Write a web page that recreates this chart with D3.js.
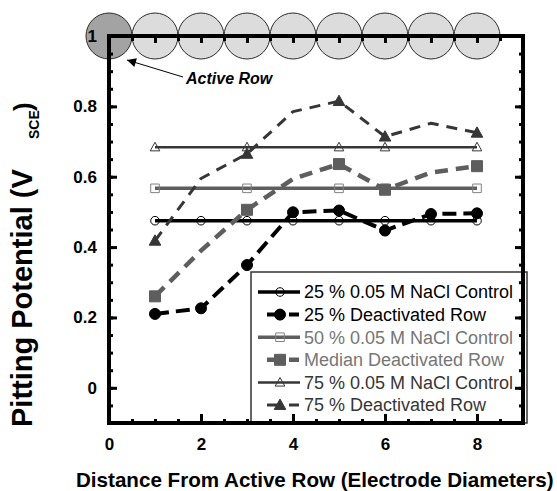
<!DOCTYPE html>
<html>
<head>
<meta charset="utf-8">
<script src="https://cdn.jsdelivr.net/npm/d3@7"></script>
<style>
  html, body { margin: 0; padding: 0; background: #fff; }
  svg { display: block; font-family: "Liberation Sans", Arial, sans-serif; }
</style>
</head>
<body>
<svg id="chart" width="557" height="491"></svg>
<script>
// Distances from the active row (electrode diameters)
const distances = [1, 2, 3, 4, 5, 6, 7, 8];

// Pitting potentials (V vs SCE)
const control25 = [0.475, 0.475, 0.475, 0.475, 0.475, 0.475, 0.475, 0.475];
const deactivated25 = [0.21, 0.226, 0.349, 0.499, 0.504, 0.447, 0.494, 0.496];
const control50 = [0.567, 0.567, 0.567, 0.567, 0.567, 0.567, 0.567, 0.567];
const medianDeactivated = [0.26, 0.39, 0.506, 0.594, 0.636, 0.563, 0.612, 0.63];
const control75 = [0.684, 0.684, 0.684, 0.684, 0.684, 0.684, 0.684, 0.684];
const deactivated75 = [0.418, 0.595, 0.665, 0.785, 0.815, 0.714, 0.752, 0.725];

// Distances at which symbols are plotted
const markersAll = [1, 2, 3, 4, 5, 6, 7, 8];
const markersSparse = [1, 3, 5, 6, 8];

// Electrode row drawn along the top edge (0 = active electrode)
const electrodes = [0, 1, 2, 3, 4, 5, 6, 7, 8];

// Axis ticks
const xMajor = [0, 2, 4, 6, 8];
const yMajor = [0, 0.2, 0.4, 0.6, 0.8, 1];

const legendLabels = [
  "25 % 0.05 M NaCl Control",
  "25 % Deactivated Row",
  "50 % 0.05 M NaCl Control",
  "Median Deactivated Row",
  "75 % 0.05 M NaCl Control",
  "75 % Deactivated Row"
];

const BLACK = "#000", GRAY = "#5e5e5e", DARK = "#363636";

const series = [
  { values: control25, markers: markersAll, color: BLACK, width: 3.5, dash: null, symbol: "circle", filled: false, size: 4.3, text: BLACK },
  { values: deactivated25, markers: markersAll, color: BLACK, width: 4, dash: "14,7", symbol: "circle", filled: true, size: 5.5, text: BLACK },
  { values: control50, markers: markersSparse, color: GRAY, width: 3.5, dash: null, symbol: "square", filled: false, size: 4.3, text: "#767676" },
  { values: medianDeactivated, markers: markersSparse, color: GRAY, width: 4.5, dash: "13,8", symbol: "square", filled: true, size: 5.5, text: "#767676" },
  { values: control75, markers: markersSparse, color: DARK, width: 2.5, dash: null, symbol: "triangle", filled: false, size: 4.8, text: DARK },
  { values: deactivated75, markers: markersSparse, color: DARK, width: 3, dash: "11,8", symbol: "triangle", filled: true, size: 5.8, text: DARK }
];

const svg = d3.select("#chart");
const x = d3.scaleLinear().domain([0, 9]).range([109, 523]);
const y = d3.scaleLinear().domain([-0.1, 1.0]).range([423, 36]);

// Electrode circles along the top
const r = (x(1) - x(0)) / 2;
svg.append("g").selectAll("circle").data(electrodes).join("circle")
  .attr("cx", d => x(d)).attr("cy", y(1))
  .attr("r", r)
  .attr("fill", d => d === 0 ? "#a3a3a3" : "#dcdcdc")
  .attr("stroke", "#2a2a2a").attr("stroke-width", 1);

// Symbol path generator
function symbolPath(type, s) {
  if (type === "square") return `M${-s},${-s}H${s}V${s}H${-s}Z`;
  const h = s * 1.7;
  return `M0,${-h * 0.6}L${s},${h * 0.45}L${-s},${h * 0.45}Z`;
}
function drawMarker(g, sr, cx, cy) {
  const fill = sr.filled ? sr.color : "none";
  const stroke = sr.filled ? sr.color : (sr.symbol === "square" ? "#808080" : sr.color);
  if (sr.symbol === "circle") {
    g.append("circle").attr("cx", cx).attr("cy", cy).attr("r", sr.size)
      .attr("fill", sr.filled ? sr.color : "none")
      .attr("stroke", stroke).attr("stroke-width", 1);
  } else {
    g.append("path").attr("d", symbolPath(sr.symbol, sr.size))
      .attr("transform", `translate(${cx},${cy})`)
      .attr("fill", fill).attr("stroke", stroke).attr("stroke-width", 1);
  }
}

// Data lines and markers
const line = d3.line().x(d => x(d[0])).y(d => y(d[1]));
const plot = svg.append("g");
series.forEach(sr => {
  const pts = distances.map((d, i) => [d, sr.values[i]]);
  plot.append("path").datum(pts).attr("d", line)
    .attr("fill", "none").attr("stroke", sr.color)
    .attr("stroke-width", sr.width)
    .attr("stroke-dasharray", sr.dash)
    .attr("stroke-linejoin", "round");
  sr.markers.forEach(m => {
    const i = distances.indexOf(m);
    drawMarker(plot, sr, x(m), y(sr.values[i]));
  });
});

// Legend
const lg = svg.append("g");
lg.append("rect").attr("x", 251).attr("y", 272).attr("width", 276).attr("height", 151)
  .attr("fill", "#fff").attr("stroke", "#333").attr("stroke-width", 1.5);
series.forEach((sr, i) => {
  const cy = 292 + i * 22.6;
  if (sr.dash) {
    lg.append("line").attr("x1", 267).attr("x2", 299).attr("y1", cy).attr("y2", cy)
      .attr("stroke", sr.color).attr("stroke-width", sr.width)
      .attr("stroke-dasharray", "10,12,10");
  } else {
    lg.append("line").attr("x1", 258).attr("x2", 300).attr("y1", cy).attr("y2", cy)
      .attr("stroke", sr.color).attr("stroke-width", sr.width);
  }
  drawMarker(lg, sr, 280, cy);
  lg.append("text").attr("x", 304).attr("y", cy).attr("dy", "0.36em")
    .attr("font-size", 18).attr("fill", sr.text).text(legendLabels[i]);
});

// Axes: frame with inward ticks
const axes = svg.append("g");
function styleAxis(g) {
  g.select(".domain").remove();
  g.selectAll(".tick line").attr("stroke", "#000").attr("stroke-width", 3);
  g.selectAll(".tick text").attr("font-size", 17).attr("font-weight", "bold")
    .attr("font-family", "Liberation Sans, Arial, sans-serif").attr("fill", "#000");
}
const xMinor = d3.range(0, 9.01, 0.5);
const yMinor = d3.range(-0.1, 1.001, 0.05).map(v => +v.toFixed(2));

axes.append("g").attr("transform", `translate(0,${y(-0.1)})`)
  .call(d3.axisBottom(x).tickValues(xMinor).tickSize(-4).tickFormat("")).call(styleAxis);
axes.append("g").attr("transform", `translate(0,${y(-0.1)})`)
  .call(d3.axisBottom(x).tickValues(xMajor).tickSize(-9).tickPadding(15).tickFormat(d3.format("d"))).call(styleAxis);
axes.append("g").attr("transform", `translate(0,${y(1)})`)
  .call(d3.axisTop(x).tickValues(xMinor).tickSize(-5).tickFormat("")).call(styleAxis);
axes.append("g").attr("transform", `translate(0,${y(1)})`)
  .call(d3.axisTop(x).tickValues(d3.range(1, 9)).tickSize(-7).tickFormat("")).call(styleAxis);
axes.append("g").attr("transform", `translate(${x(0)},0)`)
  .call(d3.axisLeft(y).tickValues(yMinor).tickSize(-4).tickFormat("")).call(styleAxis);
axes.append("g").attr("transform", `translate(${x(0)},0)`)
  .call(d3.axisLeft(y).tickValues(yMajor).tickSize(-8).tickPadding(12).tickFormat(d => d === 1 ? "1" : (d === 0 ? "0" : d3.format(".1f")(d)))).call(styleAxis);
axes.append("g").attr("transform", `translate(${x(9)},0)`)
  .call(d3.axisRight(y).tickValues(yMinor).tickSize(-4).tickFormat("")).call(styleAxis);
axes.append("g").attr("transform", `translate(${x(9)},0)`)
  .call(d3.axisRight(y).tickValues(yMajor).tickSize(-8).tickFormat("")).call(styleAxis);

axes.append("rect").attr("x", x(0)).attr("y", y(1)).attr("width", x(9) - x(0)).attr("height", y(-0.1) - y(1))
  .attr("fill", "none").attr("stroke", "#000").attr("stroke-width", 4);

// Annotation for the active electrode
const defs = svg.append("defs");
defs.append("marker").attr("id", "arrow").attr("viewBox", "0 0 10 10")
  .attr("refX", 10).attr("refY", 5).attr("markerWidth", 12).attr("markerHeight", 9)
  .attr("markerUnits", "userSpaceOnUse").attr("orient", "auto")
  .append("path").attr("d", "M0,0L10,5L0,10Z").attr("fill", "#000");
svg.append("line").attr("x1", 183).attr("y1", 77).attr("x2", 127).attr("y2", 60)
  .attr("stroke", "#000").attr("stroke-width", 1).attr("marker-end", "url(#arrow)");
svg.append("text").attr("x", 186).attr("y", 84)
  .attr("font-size", 16).attr("font-weight", "bold").attr("font-style", "italic")
  .text("Active Row");

// Axis titles
svg.append("text").attr("x", 76).attr("y", 487)
  .attr("font-size", 20.6).attr("font-weight", "bold").text("Distance From Active Row (Electrode Diameters)");

const yt = svg.append("g").attr("font-weight", "bold");
yt.append("text").attr("transform", "translate(32,427) rotate(-90)")
  .attr("font-size", 29).text("Pitting Potential (V");
yt.append("text").attr("transform", "translate(39,139) rotate(-90)")
  .attr("font-size", 14).text("SCE");
yt.append("text").attr("transform", "translate(32,111) rotate(-90)")
  .attr("font-size", 26).text(")");
</script>
</body>
</html>
